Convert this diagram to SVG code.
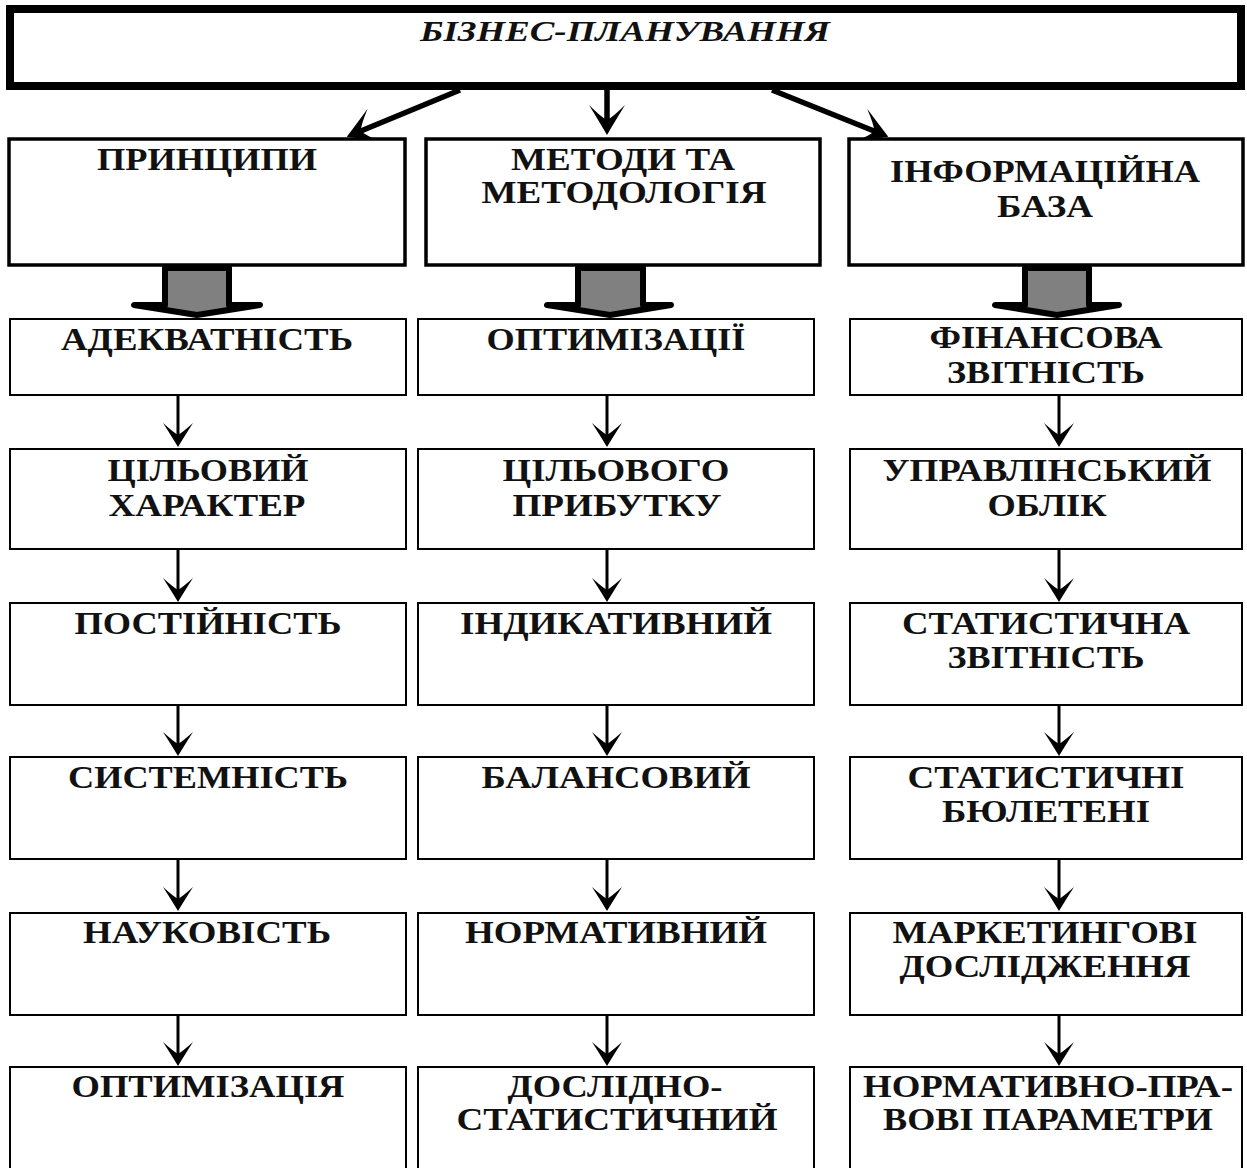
<svg xmlns="http://www.w3.org/2000/svg" width="1247" height="1168" viewBox="0 0 1247 1168">
<style>
  .top { fill: #fff; stroke: #000; stroke-width: 8; }
  .main { fill: #fff; stroke: #000; stroke-width: 3.5; }
  .box { fill: #fff; stroke: #000; stroke-width: 2; }
  .t { font-family: "Liberation Serif", "DejaVu Serif", serif; font-weight: bold; font-size: 31px; fill: #111; text-anchor: middle; }
  .title { font-family: "Liberation Serif", "DejaVu Serif", serif; font-weight: bold; font-style: italic; font-size: 30px; fill: #111; text-anchor: middle; }
  .blk { fill: #808080; stroke: #000; stroke-width: 6; stroke-linejoin: round; }
  .conn { stroke: #000; stroke-width: 3; fill: none; }
  .conn-big { stroke: #000; stroke-width: 5.5; fill: none; }
</style>
<defs>
  <marker id="ah" viewBox="-28 -16 40 32" refX="-9" refY="0" markerWidth="40" markerHeight="32" orient="auto" markerUnits="userSpaceOnUse">
    <path d="M0,0 Q-10,-6 -24,-15 Q-15,-5 -12,0 Q-15,5 -24,15 Q-10,6 0,0 Z" fill="#000"/>
  </marker>
  <marker id="ahb" viewBox="-34 -20 46 40" refX="-10" refY="0" markerWidth="46" markerHeight="40" orient="auto" markerUnits="userSpaceOnUse">
    <path d="M0,0 Q-12,-7 -30,-18 Q-18,-6 -15,0 Q-18,6 -30,18 Q-12,7 0,0 Z" fill="#000"/>
  </marker>
</defs>

<g id="connectors">
  <line class="conn-big" x1="460" y1="90" x2="356" y2="133" marker-end="url(#ahb)"/>
  <line class="conn-big" x1="607" y1="90" x2="607" y2="125" marker-end="url(#ahb)"/>
  <line class="conn-big" x1="772" y1="90" x2="879" y2="133" marker-end="url(#ahb)"/>

  <polygon class="blk" points="165,268 229,268 229,305 260,305 197,315 134,305 165,305"/>
  <polygon class="blk" points="578,268 643,268 643,305 671,305 610,315 547,305 578,305"/>
  <polygon class="blk" points="1025,268 1089,268 1089,305 1119,305 1057,315 995,305 1025,305"/>

  <line class="conn" x1="178" y1="396" x2="178" y2="438" marker-end="url(#ah)"/>
  <line class="conn" x1="178" y1="549" x2="178" y2="593" marker-end="url(#ah)"/>
  <line class="conn" x1="178" y1="705" x2="178" y2="747" marker-end="url(#ah)"/>
  <line class="conn" x1="178" y1="859" x2="178" y2="902" marker-end="url(#ah)"/>
  <line class="conn" x1="178" y1="1015" x2="178" y2="1057" marker-end="url(#ah)"/>

  <line class="conn" x1="607" y1="396" x2="607" y2="438" marker-end="url(#ah)"/>
  <line class="conn" x1="607" y1="549" x2="607" y2="593" marker-end="url(#ah)"/>
  <line class="conn" x1="607" y1="705" x2="607" y2="747" marker-end="url(#ah)"/>
  <line class="conn" x1="607" y1="859" x2="607" y2="902" marker-end="url(#ah)"/>
  <line class="conn" x1="607" y1="1015" x2="607" y2="1057" marker-end="url(#ah)"/>

  <line class="conn" x1="1059" y1="396" x2="1059" y2="438" marker-end="url(#ah)"/>
  <line class="conn" x1="1059" y1="549" x2="1059" y2="593" marker-end="url(#ah)"/>
  <line class="conn" x1="1059" y1="705" x2="1059" y2="747" marker-end="url(#ah)"/>
  <line class="conn" x1="1059" y1="859" x2="1059" y2="902" marker-end="url(#ah)"/>
  <line class="conn" x1="1059" y1="1015" x2="1059" y2="1057" marker-end="url(#ah)"/>
</g>

<g id="n-top">
  <rect class="top" x="10" y="9" width="1231" height="77"/>
  <text class="title" x="625" y="41" textLength="410" lengthAdjust="spacingAndGlyphs">БІЗНЕС-ПЛАНУВАННЯ</text>
</g>

<g id="n-pryntsypy">
  <rect class="main" x="9" y="139" width="396" height="126"/>
  <text class="t" x="207" y="170" textLength="220" lengthAdjust="spacingAndGlyphs">ПРИНЦИПИ</text>
</g>
<g id="n-metody">
  <rect class="main" x="426" y="139" width="394" height="126"/>
  <text class="t" x="623" y="170" textLength="224" lengthAdjust="spacingAndGlyphs">МЕТОДИ ТА</text>
  <text class="t" x="624" y="203" textLength="285" lengthAdjust="spacingAndGlyphs">МЕТОДОЛОГІЯ</text>
</g>
<g id="n-info">
  <rect class="main" x="849" y="139" width="394" height="126"/>
  <text class="t" x="1045" y="182" textLength="310" lengthAdjust="spacingAndGlyphs">ІНФОРМАЦІЙНА</text>
  <text class="t" x="1045" y="217" textLength="96" lengthAdjust="spacingAndGlyphs">БАЗА</text>
</g>

<!-- column 1 -->
<g id="n-c1r1">
  <rect class="box" x="10" y="319" width="396" height="76"/>
  <text class="t" x="207" y="350" textLength="292" lengthAdjust="spacingAndGlyphs">АДЕКВАТНІСТЬ</text>
</g>
<g id="n-c1r2">
  <rect class="box" x="10" y="449" width="396" height="100"/>
  <text class="t" x="208" y="481" textLength="201" lengthAdjust="spacingAndGlyphs">ЦІЛЬОВИЙ</text>
  <text class="t" x="207" y="516" textLength="197" lengthAdjust="spacingAndGlyphs">ХАРАКТЕР</text>
</g>
<g id="n-c1r3">
  <rect class="box" x="10" y="603" width="396" height="102"/>
  <text class="t" x="208" y="634" textLength="267" lengthAdjust="spacingAndGlyphs">ПОСТІЙНІСТЬ</text>
</g>
<g id="n-c1r4">
  <rect class="box" x="10" y="757" width="396" height="102"/>
  <text class="t" x="208" y="788" textLength="280" lengthAdjust="spacingAndGlyphs">СИСТЕМНІСТЬ</text>
</g>
<g id="n-c1r5">
  <rect class="box" x="10" y="913" width="396" height="102"/>
  <text class="t" x="207" y="943" textLength="248" lengthAdjust="spacingAndGlyphs">НАУКОВІСТЬ</text>
</g>
<g id="n-c1r6">
  <rect class="box" x="10" y="1067" width="396" height="110"/>
  <text class="t" x="208" y="1097" textLength="273" lengthAdjust="spacingAndGlyphs">ОПТИМІЗАЦІЯ</text>
</g>

<!-- column 2 -->
<g id="n-c2r1">
  <rect class="box" x="418" y="319" width="396" height="76"/>
  <text class="t" x="616" y="350" textLength="259" lengthAdjust="spacingAndGlyphs">ОПТИМІЗАЦІЇ</text>
</g>
<g id="n-c2r2">
  <rect class="box" x="418" y="449" width="396" height="100"/>
  <text class="t" x="616" y="481" textLength="227" lengthAdjust="spacingAndGlyphs">ЦІЛЬОВОГО</text>
  <text class="t" x="617" y="516" textLength="209" lengthAdjust="spacingAndGlyphs">ПРИБУТКУ</text>
</g>
<g id="n-c2r3">
  <rect class="box" x="418" y="603" width="396" height="102"/>
  <text class="t" x="616" y="634" textLength="312" lengthAdjust="spacingAndGlyphs">ІНДИКАТИВНИЙ</text>
</g>
<g id="n-c2r4">
  <rect class="box" x="418" y="757" width="396" height="102"/>
  <text class="t" x="616" y="788" textLength="269" lengthAdjust="spacingAndGlyphs">БАЛАНСОВИЙ</text>
</g>
<g id="n-c2r5">
  <rect class="box" x="418" y="913" width="396" height="102"/>
  <text class="t" x="616" y="943" textLength="302" lengthAdjust="spacingAndGlyphs">НОРМАТИВНИЙ</text>
</g>
<g id="n-c2r6">
  <rect class="box" x="418" y="1067" width="396" height="110"/>
  <text class="t" x="615" y="1097" textLength="215" lengthAdjust="spacingAndGlyphs">ДОСЛІДНО-</text>
  <text class="t" x="617" y="1130" textLength="321" lengthAdjust="spacingAndGlyphs">СТАТИСТИЧНИЙ</text>
</g>

<!-- column 3 -->
<g id="n-c3r1">
  <rect class="box" x="850" y="319" width="392" height="76"/>
  <text class="t" x="1046" y="348" textLength="233" lengthAdjust="spacingAndGlyphs">ФІНАНСОВА</text>
  <text class="t" x="1046" y="383" textLength="198" lengthAdjust="spacingAndGlyphs">ЗВІТНІСТЬ</text>
</g>
<g id="n-c3r2">
  <rect class="box" x="850" y="449" width="392" height="100"/>
  <text class="t" x="1047" y="481" textLength="329" lengthAdjust="spacingAndGlyphs">УПРАВЛІНСЬКИЙ</text>
  <text class="t" x="1047" y="516" textLength="119" lengthAdjust="spacingAndGlyphs">ОБЛІК</text>
</g>
<g id="n-c3r3">
  <rect class="box" x="850" y="603" width="392" height="102"/>
  <text class="t" x="1046" y="634" textLength="288" lengthAdjust="spacingAndGlyphs">СТАТИСТИЧНА</text>
  <text class="t" x="1046" y="668" textLength="197" lengthAdjust="spacingAndGlyphs">ЗВІТНІСТЬ</text>
</g>
<g id="n-c3r4">
  <rect class="box" x="850" y="757" width="392" height="102"/>
  <text class="t" x="1046" y="788" textLength="277" lengthAdjust="spacingAndGlyphs">СТАТИСТИЧНІ</text>
  <text class="t" x="1046" y="822" textLength="208" lengthAdjust="spacingAndGlyphs">БЮЛЕТЕНІ</text>
</g>
<g id="n-c3r5">
  <rect class="box" x="850" y="913" width="392" height="102"/>
  <text class="t" x="1045" y="943" textLength="305" lengthAdjust="spacingAndGlyphs">МАРКЕТИНГОВІ</text>
  <text class="t" x="1045" y="977" textLength="291" lengthAdjust="spacingAndGlyphs">ДОСЛІДЖЕННЯ</text>
</g>
<g id="n-c3r6">
  <rect class="box" x="850" y="1067" width="392" height="110"/>
  <text class="t" x="1048" y="1097" textLength="370" lengthAdjust="spacingAndGlyphs">НОРМАТИВНО-ПРА-</text>
  <text class="t" x="1048" y="1130" textLength="330" lengthAdjust="spacingAndGlyphs">ВОВІ ПАРАМЕТРИ</text>
</g>
</svg>
